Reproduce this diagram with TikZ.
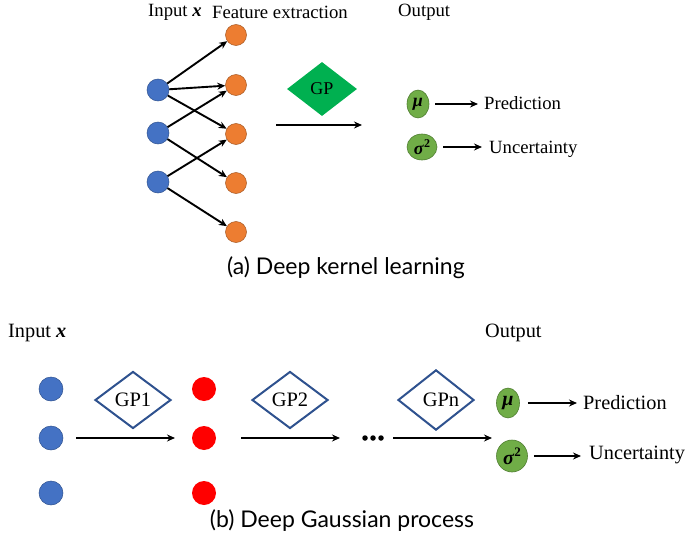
\documentclass[tikz,border=0pt]{standalone}
\usepackage{fontspec}
\setmainfont{Liberation Serif}
\newfontfamily\capfont{Lato}
\usetikzlibrary{shapes.geometric,arrows.meta}
\definecolor{nblue}{HTML}{4472C4}
\definecolor{nblueb}{HTML}{2F528F}
\definecolor{norange}{HTML}{ED7D31}
\definecolor{nred}{HTML}{FF0000}
\definecolor{ngreen}{HTML}{00B050}
\definecolor{lgreen}{HTML}{70AD47}
\definecolor{lgreenb}{HTML}{507E32}
\newcommand{\sqsup}[1]{\raisebox{0.42em}{\fontsize{#1}{#1}\selectfont\bfseries\upshape 2}}
\tikzset{
  arr/.style={draw=black, line width=1.9pt, -{Stealth[length=8pt,width=7pt]}},
  bluedot/.style={circle, fill=nblue, draw=nblueb, line width=0.5pt, minimum size=22pt, inner sep=0pt},
  orangedot/.style={circle, fill=norange, draw=norange!70!black, line width=0.5pt, minimum size=21pt, inner sep=0pt},
  reddot/.style={circle, fill=nred, minimum size=24pt, inner sep=0pt},
  bigbluedot/.style={circle, fill=nblue, draw=nblueb, line width=0.5pt, minimum size=24pt, inner sep=0pt},
  gpgreen/.style={diamond, fill=ngreen, minimum width=70pt, minimum height=54pt, inner sep=0pt, font=\fontsize{18}{20}\selectfont},
  gpline/.style={diamond, draw=nblueb, line width=2pt, fill=white, minimum width=76pt, minimum height=57pt, inner sep=0pt, font=\fontsize{20.5}{22}\selectfont},
  outell/.style={ellipse, fill=lgreen, draw=lgreenb, line width=0.6pt, inner sep=0pt},
  lblA/.style={font=\fontsize{18.7}{20}\selectfont, inner sep=0pt},
  lblB/.style={font=\fontsize{20.3}{22}\selectfont, inner sep=0pt},
  capt/.style={font=\capfont\fontsize{23}{25}\selectfont, inner sep=0pt},
  dotn/.style={circle, fill=black, minimum size=5.5pt, inner sep=0pt},
}
\begin{document}
\begin{tikzpicture}[x=1pt,y=-1pt]
\useasboundingbox (0,0) rectangle (686,546);
% ---------- (a) ----------
\node[lblA, anchor=west] (inA) at (148,12) {Input \textbf{\textit{x}}};
\node[lblA, anchor=west] (feat) at (212,12) {Feature extraction};
\node[lblA, anchor=west] (outA) at (398,12) {Output};
\node[bluedot] (b1) at (158,90) {};
\node[bluedot] (b2) at (158,133) {};
\node[bluedot] (b3) at (158,182) {};
\node[orangedot] (o1) at (236,35) {};
\node[orangedot] (o2) at (236,85) {};
\node[orangedot] (o3) at (236,134) {};
\node[orangedot] (o4) at (236,183) {};
\node[orangedot] (o5) at (236,232) {};
\draw[arr] (b1) -- (o1);
\draw[arr] (b1) -- (o2);
\draw[arr] (b1) -- (o3);
\draw[arr] (b2) -- (o2);
\draw[arr] (b2) -- (o4);
\draw[arr] (b3) -- (o3);
\draw[arr] (b3) -- (o5);
\node[gpgreen] (gp) at (322,89) {GP};
\coordinate (aS) at (276,125);
\coordinate (aE) at (362,125);
\draw[arr] (aS) -- (aE);
\node[outell, minimum width=22pt, minimum height=28pt] (muA) at (418,104) {\fontsize{18}{18}\selectfont\textbf{\textit{μ}}};
\node[outell, minimum width=30pt, minimum height=26pt] (sgA) at (422,147) {\fontsize{18}{18}\selectfont\textbf{\textit{σ}}\sqsup{12}};
\node[lblA, anchor=west] (predA) at (484,103) {Prediction};
\node[lblA, anchor=west] (uncA) at (489,149) {Uncertainty};
\draw[arr, shorten <=6pt, shorten >=6pt] (muA.east) -- (predA.west |- muA.east);
\draw[arr, shorten <=6pt, shorten >=7pt] (sgA.east) -- (uncA.west |- sgA.east);
\node[capt] (capA) at (346,268) {(a) Deep kernel learning};
% ---------- (b) ----------
\node[lblB, anchor=west] (inB) at (8,333) {Input \textbf{\textit{x}}};
\node[lblB, anchor=west] (outB) at (485,333) {Output};
\node[bigbluedot] (c1) at (51,389) {};
\node[bigbluedot] (c2) at (51,438) {};
\node[bigbluedot] (c3) at (51,493) {};
\node[reddot] (r1) at (204,389) {};
\node[reddot] (r2) at (204,438) {};
\node[reddot] (r3) at (204,493) {};
\node[gpline] (gp1) at (133,400) {GP1};
\node[gpline] (gp2) at (290,400) {GP2};
\node[gpline] (gpn) at (436,400) {\hspace{10pt}GPn};
\coordinate (s1) at (76,438);
\coordinate (e1) at (175,438);
\coordinate (s2) at (241,438);
\coordinate (e2) at (340,438);
\coordinate (s3) at (393,438);
\coordinate (e3) at (492,438);
\draw[arr] (s1) -- (e1);
\draw[arr] (s2) -- (e2);
\draw[arr] (s3) -- (e3);
\node[dotn] (d1) at (365,438) {};
\node[dotn] (d2) at (373,438) {};
\node[dotn] (d3) at (381,438) {};
\node[outell, minimum width=23pt, minimum height=30pt] (muB) at (508,403) {\fontsize{20}{20}\selectfont\textbf{\textit{μ}}};
\node[outell, minimum width=31pt, minimum height=32pt] (sgB) at (512,456) {\fontsize{20}{20}\selectfont\textbf{\textit{σ}}\sqsup{13}};
\node[lblB, anchor=west] (predB) at (583,403) {Prediction};
\node[lblB, anchor=west] (uncB) at (589,455) {Uncertainty};
\draw[arr, shorten <=8pt, shorten >=6pt] (muB.east) -- (predB.west |- muB.east);
\draw[arr, shorten <=6pt, shorten >=8pt] (sgB.east) -- (uncB.west |- sgB.east);
\node[capt] (capB) at (342,521) {(b) Deep Gaussian process};
\end{tikzpicture}
\end{document}
